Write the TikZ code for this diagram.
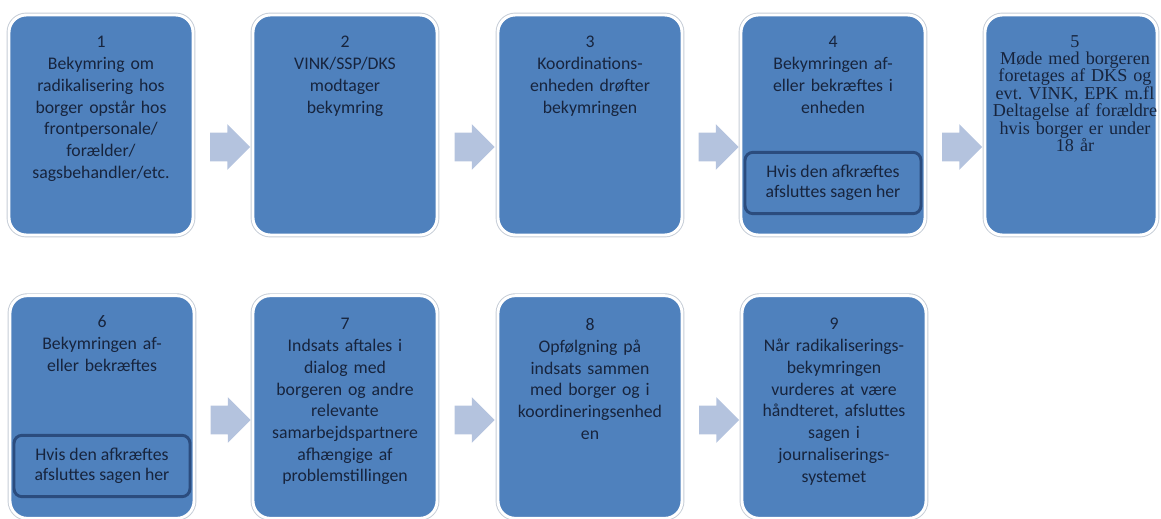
\documentclass[tikz,border=0pt]{standalone}
\usepackage{fontspec}
\setmainfont{Carlito}
\newfontfamily\cambria[WordSpace=0.7]{Liberation Serif}
\usetikzlibrary{calc,shapes.arrows}
\definecolor{boxblue}{HTML}{4F81BD}
\definecolor{boxtext}{HTML}{17243D}
\definecolor{innerline}{HTML}{2B4C7E}
\definecolor{arrowgrey}{HTML}{B4C3DE}
\definecolor{boxrim}{HTML}{C5CCD6}
\frenchspacing
\tikzset{
	stepbox/.style={rectangle, rounded corners=13pt, fill=boxblue, draw=white, line width=2.2pt,
		minimum width=138pt, minimum height=165pt, inner sep=0pt,
		preaction={draw=boxrim, line width=3.6pt}},
	steptext/.style={anchor=north, text width=134pt, align=center, inner sep=0pt, text=boxtext,
		font=\fontsize{13.3}{16.3}\selectfont},
	stopbox/.style={rectangle, rounded corners=6pt, fill=boxblue, draw=innerline, line width=2.2pt,
		minimum width=132pt, minimum height=46pt, inner sep=0pt, align=center, text=boxtext,
		font=\fontsize{13.3}{15}\selectfont},
	flowarrow/.style={single arrow, fill=arrowgrey, draw=none, inner xsep=0pt, inner ysep=10.5pt,
		single arrow head extend=6.4pt, minimum height=30pt}
}
\begin{document}
\begin{tikzpicture}[x=0.75pt, y=-0.75pt]
	\useasboundingbox (0,0) rectangle (1161,518);
	% top row
	\node[stepbox] (b1) at (101,125) {};
	\node[stepbox] (b2) at (345,125) {};
	\node[stepbox] (b3) at (590,125) {};
	\node[stepbox] (b4) at (833,125) {};
	\node[stepbox, minimum width=129pt] (b5) at (1071,125) {};
	% bottom row
	\node[stepbox, minimum height=167pt] (b6) at (102,407) {};
	\node[stepbox, minimum height=167pt] (b7) at (345,407) {};
	\node[stepbox, minimum height=167pt] (b8) at (590,407) {};
	\node[stepbox, minimum height=167pt] (b9) at (834,407) {};

	\node[steptext] (t1) at ([yshift=-17pt]b1.north) {1\\Bekymring om\\radikalisering hos\\borger opstår hos\\frontpersonale/\\forælder/\\sagsbehandler/etc.};
	\node[steptext] (t2) at ([yshift=-17pt]b2.north) {2\\VINK/SSP/DKS\\modtager\\bekymring};
	\node[steptext] (t3) at ([yshift=-17pt]b3.north) {3\\Koordinations-\\enheden drøfter\\bekymringen};
	\node[steptext] (t4) at ([yshift=-17pt]b4.north) {4\\Bekymringen af-\\eller bekræftes i\\enheden};
	\node[steptext, text width=132pt, font=\cambria\fontsize{13.6}{13.1}\selectfont] (t5) at ([xshift=3pt,yshift=-16pt]b5.north) {5\\Møde med borgeren\\foretages af DKS og\\evt. VINK,\ EPK m.fl\\Deltagelse af forældre\\hvis borger er under\\18 år};
	\node[steptext] (t6) at ([yshift=-16pt]b6.north) {6\\Bekymringen af-\\eller bekræftes};
	\node[steptext] (t7) at ([yshift=-18pt]b7.north) {7\\Indsats aftales i\\dialog med\\borgeren og andre\\relevante\\samarbejdspartnere\\afhængige af\\problemstillingen};
	\node[steptext] (t8) at ([yshift=-18pt]b8.north) {8\\Opfølgning på\\indsats sammen\\med borger og i\\koordineringsenhed\\en};
	\node[steptext] (t9) at ([yshift=-18pt]b9.north) {9\\Når radikaliserings-\\bekymringen\\vurderes at være\\håndteret, afsluttes\\sagen i\\journaliserings-\\systemet};

	% where the case is closed
	\node[stopbox] (s4) at ($(b4.center)+(0,58)$) {Hvis den afkræftes\\afsluttes sagen her};
	\node[stopbox] (s6) at ($(b6.center)+(0,59)$) {Hvis den afkræftes\\afsluttes sagen her};

	\foreach \p/\q/\dy in {b1/b2/22, b2/b3/22, b3/b4/22, b4/b5/22, b6/b7/13, b7/b8/13, b8/b9/13}{
		\node[flowarrow] (a-\p) at ($(\p.east)!0.5!(\q.west)+(0,\dy)$) {};
	}
\end{tikzpicture}
\end{document}
